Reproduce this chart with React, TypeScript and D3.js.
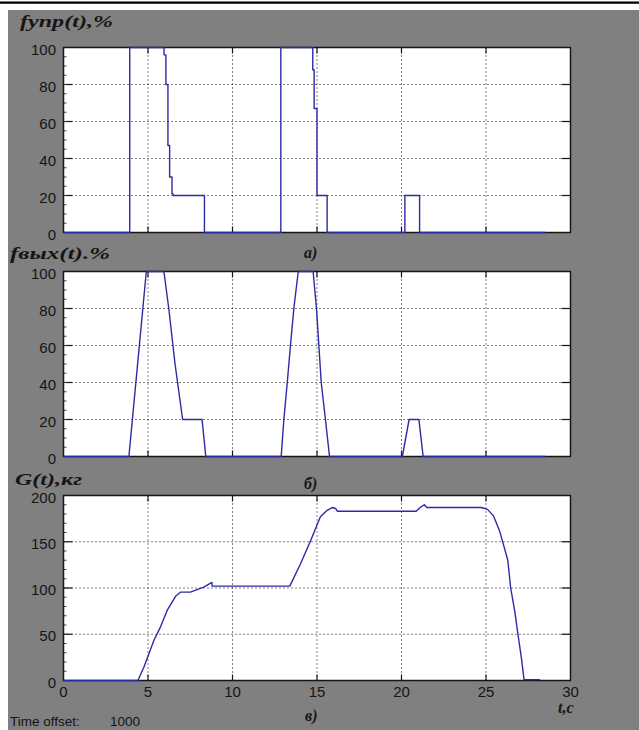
import React from "react";
import * as d3 from "d3";

// ---- data ----
const timeTicks = [0, 5, 10, 15, 20, 25, 30];
const pctTicks = [0, 20, 40, 60, 80, 100];
const massTicks = [0, 50, 100, 150, 200];

// panel а) fупр(t), %
const fuprT = [0, 3.92, 3.92, 5.95, 5.95, 6.06, 6.06, 6.18, 6.18, 6.28, 6.28, 6.42, 6.42, 6.48, 6.48, 8.34, 8.34, 12.86, 12.86, 14.75, 14.75, 14.83, 14.83, 15.0, 15.0, 15.6, 15.6, 20.2, 20.2, 21.07, 21.07, 28.5];
const fuprV = [0, 0, 100, 100, 96, 96, 80, 80, 47, 47, 30, 30, 21, 21, 20, 20, 0, 0, 100, 100, 88, 88, 67, 67, 20, 20, 0, 0, 20, 20, 0, 0];

// panel б) fвых(t), %
const fvyhT = [0, 3.87, 4.9, 5.94, 6.23, 6.6, 7.05, 8.2, 8.42, 12.88, 13.04, 13.24, 13.43, 13.63, 13.89, 14.77, 14.97, 15.11, 15.25, 15.5, 15.74, 20.05, 20.45, 21.03, 21.28, 28.5];
const fvyhV = [0, 0, 100, 100, 80, 50, 20, 20, 0, 0, 20, 40, 60, 80, 100, 100, 80, 60, 40, 20, 0, 0, 20, 20, 0, 0];

// panel в) G(t), кг
const gT = [0, 4.4, 4.75, 5.34, 5.74, 6.14, 6.63, 6.92, 7.51, 8.3, 8.78, 8.8, 13.39, 14.02, 14.62, 15.2, 15.6, 15.9, 16.1, 16.2, 20.87, 21.1, 21.35, 21.5, 24.73, 25.09, 25.44, 25.8, 26.0, 26.29, 26.46, 26.7, 26.89, 27.09, 27.25, 28.2];
const gV = [0, 0, 14, 43, 58, 76, 91, 95.5, 95.5, 101, 106, 102, 102, 126, 151, 177, 184, 187, 186, 183, 183, 187, 190, 187, 187, 185, 178, 162, 149, 130, 100, 75, 50, 25, 1, 1];

const titles = ["fупр(t),%", "fвых(t).%", "G(t),кг"];
const panelLabels = ["а)", "б)", "в)"];

// ---- layout ----
const W = 639;
const H = 730;
const X0 = 63.5;
const X1 = 570.5;
const panels = [
  { top: 47.5, bottom: 232.5, T: fuprT, V: fuprV, ticks: pctTicks, minor: 5, title: titles[0], tx: 20, ty: 27, tw: 93, fs: 17, label: panelLabels[0], lx: 304, ly: 258 },
  { top: 271.5, bottom: 456.5, T: fvyhT, V: fvyhV, ticks: pctTicks, minor: 5, title: titles[1], tx: 10, ty: 259, tw: 100, fs: 17, label: panelLabels[1], lx: 304, ly: 489 },
  { top: 495.5, bottom: 680.5, T: gT, V: gV, ticks: massTicks, minor: 10, title: titles[2], tx: 15, ty: 485, tw: 67, fs: 16, label: panelLabels[2], lx: 305, ly: 721 },
];

const BLUE = "#2b2ba6";
const INK = "#151515";
const sans = "'Liberation Sans', Arial, sans-serif";
const serif = "'Liberation Serif', 'Times New Roman', serif";

function Panel({ p, showX }: { p: any; showX: boolean }) {
  const x = d3.scaleLinear().domain([0, 30]).range([X0, X1]);
  const ymax = p.ticks[p.ticks.length - 1];
  const y = d3.scaleLinear().domain([0, ymax]).range([p.bottom, p.top]);
  const data = p.T.map((t: number, i: number) => [t, p.V[i]] as [number, number]);
  const line = d3
    .line<[number, number]>()
    .x((d) => x(d[0]))
    .y((d) => y(d[1]));
  const minorVals = d3.range(0, ymax + 0.001, p.minor);
  const xt = 6;
  const yt = 9;
  return (
    <g>
      <rect x={X0} y={p.top} width={X1 - X0} height={p.bottom - p.top} fill="#ffffff" />
      {/* grid */}
      {timeTicks.slice(1, -1).map((t) => (
        <line key={"gx" + t} x1={x(t)} x2={x(t)} y1={p.top} y2={p.bottom} stroke="#000" strokeWidth={1} strokeDasharray="1,3" />
      ))}
      {p.ticks.slice(1, -1).map((v: number) => (
        <line key={"gy" + v} x1={X0} x2={X1} y1={y(v)} y2={y(v)} stroke="#000" strokeWidth={1} strokeDasharray="1,3" />
      ))}
      {/* ticks */}
      {timeTicks.slice(1, -1).map((t) => (
        <g key={"tx" + t}>
          <line x1={x(t)} x2={x(t)} y1={p.top} y2={p.top + xt} stroke={INK} strokeWidth={1.2} />
          <line x1={x(t)} x2={x(t)} y1={p.bottom} y2={p.bottom - xt} stroke={INK} strokeWidth={1.2} />
        </g>
      ))}
      {p.ticks.slice(1, -1).map((v: number) => (
        <g key={"ty" + v}>
          <line x1={X0} x2={X0 + yt} y1={y(v)} y2={y(v)} stroke={INK} strokeWidth={1.2} />
          <line x1={X1} x2={X1 - yt} y1={y(v)} y2={y(v)} stroke={INK} strokeWidth={1.2} />
        </g>
      ))}
      {minorVals.map((v: number) => (
        <line key={"mn" + v} x1={X0} x2={X0 + 3} y1={y(v)} y2={y(v)} stroke="#444" strokeWidth={1} />
      ))}
      {/* frame */}
      <rect x={X0} y={p.top} width={X1 - X0} height={p.bottom - p.top} fill="none" stroke={INK} strokeWidth={1.5} />
      {/* series */}
      <path d={line(data) || ""} fill="none" stroke={BLUE} strokeWidth={1.4} strokeLinejoin="round" />
      {/* y tick labels */}
      {p.ticks.map((v: number) => (
        <text key={"yl" + v} x={56} y={y(v)} dy="0.47em" textAnchor="end" fontFamily={sans} fontSize={15} fill={INK}>
          {v}
        </text>
      ))}
      {showX &&
        timeTicks.map((t) => (
          <text key={"xl" + t} x={x(t)} y={p.bottom + 16.5} textAnchor="middle" fontFamily={sans} fontSize={15} fill={INK}>
            {t}
          </text>
        ))}
      {/* title and panel label */}
      <text x={p.tx} y={p.ty} fontFamily={serif} fontWeight="bold" fontStyle="italic" fontSize={p.fs} fill={INK} textLength={p.tw} lengthAdjust="spacingAndGlyphs">
        {p.title}
      </text>
      <text x={p.lx} y={p.ly} fontFamily={serif} fontWeight="bold" fontStyle="italic" fontSize={16} fill={INK}>
        {p.label}
      </text>
    </g>
  );
}

export default function App() {
  return (
    <svg width={W} height={H} style={{ position: "absolute", left: 0, top: 0, display: "block" }}>
      <rect x={0} y={0} width={W} height={H} fill="#ffffff" />
      <line x1={0} x2={W} y1={2.7} y2={2.7} stroke="#000" strokeWidth={2.2} />
      <rect x={8} y={10} width={W - 8} height={H - 10} fill="#808080" />
      {panels.map((p, i) => (
        <Panel key={i} p={p} showX={i === panels.length - 1} />
      ))}
      <text x={558} y={713} fontFamily={serif} fontWeight="bold" fontStyle="italic" fontSize={16} fill={INK}>
        t,с
      </text>
      <text x={10} y={725.5} fontFamily={sans} fontSize={13.5} fill={INK}>
        Time offset:
      </text>
      <text x={110} y={725.5} fontFamily={sans} fontSize={13.5} fill={INK}>
        1000
      </text>
    </svg>
  );
}
